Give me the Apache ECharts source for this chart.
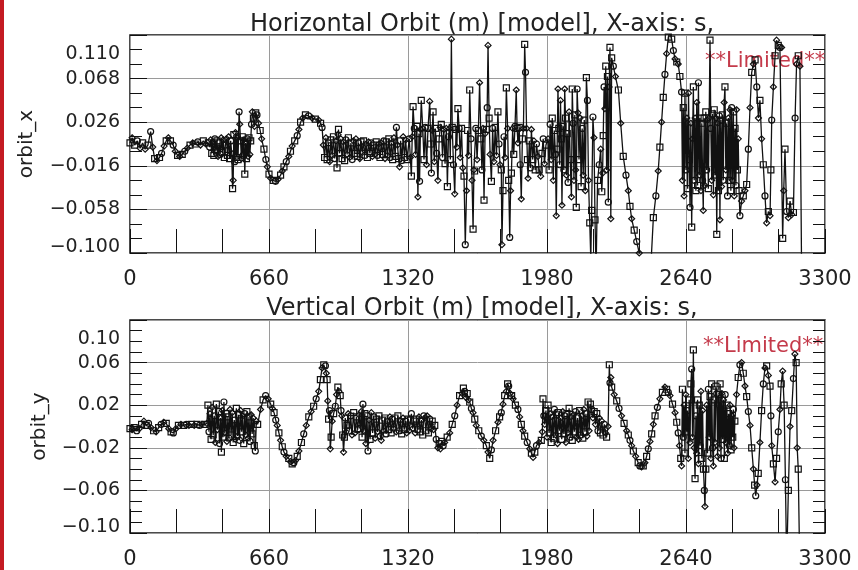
<!DOCTYPE html>
<html>
<head>
<meta charset="utf-8">
<script src="https://cdn.jsdelivr.net/npm/echarts@6/dist/echarts.min.js"></script>
<style>
html, body { margin: 0; padding: 0; background: #fff; }
#chart { width: 858px; height: 570px; }
</style>
</head>
<body>
<div id="chart"></div>
<script>
// [s (m), orbit (m)]
var orbitX = [
  [0,0.006],[10,0.011],[22,0.004],[35,0.008],[48,0.001],[60,0.006],[72,0.000],[85,0.004],[98,0.017],[108,0.002],
  [117,-0.009],[128,-0.011],[140,-0.008],[150,-0.004],[162,0.003],[172,0.008],[182,0.011],[192,0.008],[205,0.004],
  [215,-0.002],[226,-0.006],[236,-0.007],[248,-0.005],[260,-0.002],[272,0.001],[285,0.004],[298,0.006],[310,0.005],
  [322,0.007],[335,0.004],[348,0.008],[360,0.005],[372,0.006],
  [378,0.002],[383,0.009],[388,-0.004],[393,0.007],[398,-0.006],[403,0.010],[408,-0.002],[413,0.008],[418,-0.007],
  [423,0.006],[428,-0.005],[433,0.011],[438,-0.003],[443,0.009],[448,-0.008],[453,0.004],[458,0.010],[463,-0.006],
  [468,0.012],[473,-0.009],[478,0.008],[483,-0.004],[487,-0.038],[490,-0.030],[493,0.014],[497,-0.012],[501,0.016],
  [505,-0.008],[509,0.011],[513,-0.010],[518,0.036],[521,0.024],[525,0.008],[529,-0.009],[533,0.012],[537,-0.006],
  [541,0.009],[545,-0.024],[549,0.006],[553,-0.009],[557,0.010],[561,-0.007],[565,0.011],[569,-0.005],[573,0.008],
  [577,0.024],[581,0.036],[586,0.030],[591,0.022],[597,0.035],[603,0.033],[610,0.025],[618,0.018],
  [625,0.010],[636,0.000],[645,-0.010],[652,-0.017],[660,-0.024],[668,-0.028],[680,-0.030],[691,-0.031],[703,-0.029],
  [715,-0.025],[723,-0.021],[731,-0.017],[742,-0.012],[754,-0.007],[762,-0.002],[770,0.003],[782,0.008],[794,0.013],
  [802,0.019],[810,0.026],[820,0.030],[833,0.033],[848,0.032],[865,0.030],[880,0.029],[896,0.028],[905,0.025],[912,0.021],
  [918,0.004],[924,-0.008],[930,0.011],[936,-0.010],[942,0.006],[948,-0.012],[954,0.009],[960,-0.006],[966,0.012],
  [972,-0.009],[978,0.008],[983,-0.018],[988,0.014],[990,0.019],[995,-0.004],[1001,0.010],[1007,-0.009],[1013,0.007],
  [1019,-0.011],[1025,0.009],[1031,-0.005],[1037,0.011],[1043,-0.008],[1049,0.006],[1055,-0.010],[1061,0.008],
  [1067,-0.004],[1073,0.010],[1079,-0.007],[1085,0.006],[1091,-0.009],[1097,0.007],[1103,-0.003],[1109,0.008],
  [1115,-0.006],[1121,0.005],[1127,-0.008],[1133,0.007],[1139,-0.004],[1145,0.006],[1151,-0.007],[1157,0.004],
  [1163,-0.005],[1169,0.007],[1175,-0.006],[1181,0.005],[1187,-0.008],[1193,0.006],[1199,-0.005],[1205,0.008],
  [1211,-0.009],[1217,0.007],[1223,-0.006],[1229,0.010],[1235,-0.008],[1241,0.006],[1247,-0.010],[1253,0.011],
  [1259,-0.007],[1265,0.021],[1270,0.004],[1275,-0.009],[1280,-0.017],[1285,0.008],[1291,-0.011],[1297,0.012],
  [1303,-0.008],[1309,0.009],[1315,-0.010],
  [1326,0.010],[1331,-0.008],[1336,-0.026],[1340,0.012],[1344,0.041],[1350,0.020],[1356,-0.005],[1362,0.022],
  [1367,-0.046],[1372,0.015],[1375,-0.031],[1379,0.019],[1383,0.047],[1390,0.020],[1396,-0.010],[1402,0.021],
  [1408,-0.015],[1415,0.020],[1423,0.046],[1428,0.005],[1431,-0.023],[1435,0.018],[1439,0.036],[1445,-0.012],
  [1450,0.020],[1456,-0.004],[1462,-0.030],[1468,0.010],[1473,0.021],[1478,0.024],[1484,-0.008],[1490,0.019],
  [1496,-0.014],[1502,0.020],[1507,-0.036],[1512,0.012],[1517,0.020],[1521,-0.010],[1526,0.106],[1530,0.021],
  [1536,-0.015],[1542,-0.043],[1548,0.019],[1552,0.002],[1557,0.039],[1563,0.020],[1568,-0.008],[1574,0.020],
  [1580,-0.018],[1586,-0.026],[1592,-0.092],[1598,-0.040],[1603,0.018],[1608,-0.006],[1613,0.057],[1619,0.010],
  [1624,-0.030],[1629,-0.077],[1633,-0.020],[1636,-0.021],[1642,0.020],[1648,-0.010],[1654,0.018],[1660,0.064],
  [1666,0.010],[1671,-0.020],[1676,0.020],[1681,-0.049],[1686,0.015],[1692,0.019],[1696,0.040],[1700,0.100],
  [1705,0.030],[1710,-0.005],[1716,-0.031],[1722,0.020],[1728,-0.012],[1734,0.021],[1740,-0.006],[1747,0.036],
  [1752,0.005],[1757,-0.015],[1763,-0.020],[1766,-0.092],[1771,-0.040],[1776,0.012],[1781,-0.008],[1787,0.059],
  [1793,0.020],[1798,-0.030],[1803,-0.085],[1807,-0.040],[1811,-0.023],[1817,0.020],[1822,-0.005],[1828,0.022],
  [1834,0.057],[1838,0.020],[1842,0.006],[1848,0.021],[1853,-0.015],[1858,-0.048],[1863,0.010],[1868,0.020],
  [1874,0.101],[1878,0.074],[1883,0.020],[1887,-0.010],[1890,-0.028],[1896,0.008],[1901,-0.018],[1906,0.019],
  [1912,-0.010],[1918,0.008],[1924,-0.020],[1930,0.005],[1937,-0.007],[1943,-0.020],[1950,-0.026],[1956,-0.004],
  [1962,0.010],[1968,-0.014],[1975,0.004],
  [1985,0.010],[1990,-0.020],[1995,0.024],[2000,-0.010],[2005,0.030],[2010,-0.030],[2015,0.018],[2020,-0.005],
  [2024,-0.064],[2028,0.000],[2032,0.058],[2036,0.020],[2040,-0.015],[2044,0.047],[2048,0.010],[2051,-0.054],
  [2056,0.022],[2060,-0.020],[2064,0.058],[2068,0.030],[2072,-0.025],[2076,0.015],[2080,-0.032],[2085,0.036],
  [2090,-0.010],[2096,-0.046],[2100,0.058],[2104,0.025],[2108,-0.030],[2112,0.033],[2116,-0.020],[2119,-0.056],
  [2123,0.058],[2127,0.035],[2132,-0.010],[2137,0.030],[2142,-0.036],[2147,0.020],[2152,-0.025],[2157,0.028],
  [2162,-0.040],[2167,0.069],[2172,0.047],[2177,-0.030],[2183,-0.071],[2188,-0.106],
  [2192,-0.059],[2198,0.031],[2203,0.011],[2208,-0.068],[2213,-0.120],[2220,-0.030],[2228,-0.015],[2235,0.000],
  [2240,-0.041],[2244,-0.023],[2247,0.013],[2251,0.060],[2255,0.039],[2259,0.080],[2263,-0.020],[2267,0.070],
  [2271,-0.051],[2275,0.060],[2279,0.098],[2283,-0.067],[2287,0.088],[2295,0.080],[2305,0.070],[2319,0.057],
  [2330,0.025],[2342,-0.007],[2355,-0.025],[2366,-0.040],[2374,-0.055],[2382,-0.067],[2394,-0.078],[2406,-0.089],
  [2418,-0.100],[2430,-0.120],[2470,-0.125],[2485,-0.066],[2497,-0.045],[2508,-0.021],[2516,0.002],[2524,0.026],
  [2532,0.050],[2540,0.072],[2548,0.092],[2556,0.108],[2564,0.112],[2572,0.106],[2580,0.095],[2588,0.087],
  [2596,0.084],[2603,0.082],[2611,0.070],[2619,0.055],
  [2623,-0.030],[2627,0.040],[2631,-0.045],[2635,0.054],[2640,-0.020],[2644,0.030],[2648,-0.038],[2652,0.054],
  [2656,-0.010],[2659,-0.056],[2663,0.025],[2667,-0.075],[2671,0.010],[2675,0.060],[2679,-0.030],[2683,0.030],
  [2687,-0.040],[2691,0.045],[2695,-0.035],[2699,0.064],[2703,-0.025],[2707,0.030],[2711,-0.040],[2715,0.025],
  [2719,-0.030],[2722,-0.059],[2726,0.030],[2730,-0.035],[2734,0.036],[2738,-0.020],[2742,0.028],[2746,-0.038],
  [2750,0.030],[2754,0.105],[2758,0.020],[2762,-0.030],[2766,0.034],[2770,-0.044],[2774,0.038],[2778,-0.025],
  [2782,0.030],[2786,-0.082],[2790,0.025],[2794,-0.040],[2798,0.032],[2801,-0.068],[2805,0.028],[2809,-0.036],
  [2813,0.033],[2817,-0.030],[2821,0.045],[2825,0.060],[2829,-0.020],[2833,0.025],[2837,-0.045],[2841,0.030],
  [2845,-0.030],[2849,0.038],[2853,-0.040],[2857,0.040],[2861,-0.030],[2865,0.036],[2869,-0.045],[2873,0.020],
  [2877,-0.035],[2880,0.038],[2884,-0.020],[2888,0.010],[2892,-0.040],[2896,-0.064],
  [2904,-0.050],[2912,-0.045],[2920,-0.040],[2928,-0.034],[2936,0.000],[2944,0.040],[2952,0.074],[2960,0.082],
  [2968,0.086],[2976,0.060],[2984,0.030],[2991,0.047],[2999,0.010],[3007,-0.015],[3015,-0.045],[3023,-0.071],
  [3031,-0.060],[3039,-0.064],[3043,-0.020],[3047,0.028],[3055,0.060],[3063,0.090],[3070,0.105],[3078,0.100],
  [3086,0.098],[3094,0.098],[3099,-0.086],[3104,-0.040],[3110,0.000],[3118,-0.060],[3126,-0.066],[3134,-0.050],
  [3142,-0.063],[3150,-0.061],[3158,0.030],[3165,0.082],[3173,0.090],[3181,0.080],[3189,-0.120]
];

var orbitY = [
  [0,-0.002],[10,-0.003],[20,-0.001],[32,-0.004],[44,-0.002],[55,0.002],[66,0.005],[77,0.001],[88,0.003],[100,-0.001],
  [112,-0.004],[124,-0.005],[136,-0.001],[148,0.002],[160,0.004],[172,0.003],[184,-0.002],[195,-0.005],[206,-0.006],
  [218,-0.002],[230,0.001],[242,0.002],[255,0.001],[268,0.002],[280,0.001],[292,0.002],[305,0.001],[318,0.002],
  [330,0.001],[342,0.002],[355,0.002],[365,0.003],
  [370,0.020],[375,-0.005],[380,0.012],[385,-0.012],[390,0.018],[395,-0.008],[400,0.010],[405,-0.015],[410,0.021],
  [415,-0.003],[420,0.014],[425,-0.016],[430,0.008],[434,-0.024],[438,0.015],[442,-0.010],[446,0.023],[450,-0.006],
  [455,0.012],[460,-0.014],[465,0.009],[470,-0.011],[475,0.016],[480,-0.008],[485,0.013],[490,-0.015],[495,0.006],
  [500,-0.012],[505,0.017],[510,-0.009],[515,0.011],[520,-0.013],[525,0.015],[530,-0.005],[535,0.010],[540,-0.016],
  [545,0.012],[550,-0.008],[555,0.014],[560,-0.011],[565,0.009],[570,-0.014],[575,0.011],[580,-0.007],[585,0.008],
  [590,-0.018],[595,-0.023],[600,0.005],[606,0.002],
  [620,0.016],[632,0.025],[644,0.029],[656,0.026],[668,0.021],[676,0.017],[684,0.013],[692,0.006],[699,0.001],
  [707,-0.006],[715,-0.013],[723,-0.019],[731,-0.024],[742,-0.028],[754,-0.030],[762,-0.033],[770,-0.035],
  [778,-0.034],[786,-0.032],[794,-0.028],[802,-0.023],[814,-0.015],[825,-0.007],[837,0.001],[849,0.009],[860,0.014],
  [872,0.019],[884,0.026],[896,0.033],[904,0.044],[912,0.055],[920,0.058],[928,0.057],[932,0.050],[936,0.044],
  [939,0.024],[943,0.007],[947,0.015],[951,-0.021],[955,-0.010],[960,0.005],[967,0.012],[975,0.019],[981,0.030],
  [987,0.037],[992,0.033],[998,0.029],[1002,0.015],[1006,0.010],[1010,-0.008],[1014,-0.024],[1018,-0.010],
  [1022,0.008],[1026,-0.005],[1030,0.001],[1036,0.012],[1042,-0.004],[1048,0.010],[1054,-0.008],[1062,0.013],
  [1068,-0.006],[1075,0.009],[1081,-0.003],[1087,0.011],[1093,-0.002],
  [1098,0.014],[1102,-0.010],[1106,0.021],[1110,-0.004],[1115,0.012],[1120,-0.016],[1125,0.010],[1130,-0.023],
  [1135,0.006],[1140,-0.012],[1146,0.013],[1152,-0.006],[1158,0.009],[1164,-0.011],[1170,0.007],[1176,-0.005],
  [1182,0.010],[1188,-0.009],[1193,-0.013],[1198,0.006],[1204,-0.004],[1210,0.008],[1216,-0.007],[1222,0.005],
  [1228,-0.003],[1234,0.009],[1240,-0.006],[1246,0.007],[1252,-0.002],[1258,0.008],[1264,-0.005],[1272,0.010],
  [1278,-0.004],[1284,0.006],[1290,-0.007],[1296,0.008],[1302,-0.003],[1308,0.005],[1314,-0.006],[1320,0.007],
  [1326,-0.004],[1332,0.006],[1336,0.012],[1342,-0.002],[1348,0.005],[1354,-0.006],[1360,0.007],[1366,-0.003],
  [1372,0.009],[1378,-0.005],[1384,0.006],[1390,-0.008],[1395,0.010],[1399,0.008],[1405,-0.004],[1411,0.010],
  [1417,-0.006],[1423,0.007],[1429,-0.002],[1435,0.005],[1441,-0.003],[1447,0.001],
  [1454,-0.012],[1462,-0.020],[1468,-0.016],[1474,-0.021],[1480,-0.014],[1487,-0.018],[1494,-0.015],[1506,-0.010],
  [1518,-0.006],[1530,0.002],[1542,0.010],[1553,0.020],[1565,0.029],[1577,0.031],[1583,0.036],[1589,0.033],
  [1596,0.027],[1601,0.031],[1607,0.025],[1613,0.023],[1621,0.017],[1629,0.013],[1637,0.007],[1644,0.001],
  [1656,-0.004],[1668,-0.009],[1680,-0.013],[1692,-0.018],[1700,-0.024],[1708,-0.030],[1716,-0.022],[1724,-0.013],
  [1736,-0.004],[1747,0.004],[1755,0.009],[1763,0.013],[1771,0.021],[1779,0.029],[1787,0.033],[1793,0.040],
  [1798,0.038],[1805,0.031],[1812,0.029],[1819,0.026],[1830,0.020],[1842,0.016],[1850,0.009],[1858,0.002],
  [1866,-0.004],[1874,-0.009],[1886,-0.015],[1898,-0.021],[1906,-0.025],[1914,-0.029],[1922,-0.024],[1930,-0.018],
  [1942,-0.015],[1953,-0.013],[1958,-0.005],[1961,0.026],[1965,0.010],[1969,0.002],
  [1975,0.015],[1980,-0.010],[1985,0.020],[1990,-0.006],[1995,0.012],[2000,-0.015],[2005,0.009],[2010,-0.011],
  [2015,0.016],[2020,-0.008],[2025,0.011],[2030,-0.016],[2035,0.013],[2040,-0.004],[2045,0.008],[2050,-0.012],
  [2055,0.014],[2060,-0.007],[2065,0.010],[2070,-0.015],[2075,0.012],[2080,-0.006],[2085,0.017],[2090,-0.010],
  [2095,0.009],[2100,-0.013],[2105,0.011],[2110,-0.005],[2115,0.014],[2120,-0.010],[2125,0.008],[2130,-0.012],
  [2135,0.015],[2140,-0.008],[2145,0.010],[2150,-0.011],[2155,0.016],[2160,-0.005],[2165,0.012],[2170,-0.009],
  [2175,0.023],[2180,-0.004],[2186,0.021],[2192,0.016],[2198,0.008],[2204,0.014],[2210,0.002],[2216,0.012],
  [2222,-0.004],[2228,0.008],[2234,-0.006],[2240,0.005],[2246,-0.008],[2252,0.002],[2258,-0.006],[2263,-0.010],
  [2270,0.000],
  [2276,0.058],[2279,0.041],[2283,0.046],[2287,0.037],[2299,0.030],[2311,0.024],[2322,0.017],[2334,0.010],
  [2346,0.003],[2358,-0.004],[2366,-0.008],[2374,-0.013],[2382,-0.018],[2390,-0.023],[2401,-0.028],[2413,-0.034],
  [2421,-0.037],[2429,-0.038],[2437,-0.037],[2445,-0.034],[2453,-0.028],[2461,-0.021],[2469,-0.014],[2477,-0.007],
  [2485,0.002],[2493,0.010],[2504,0.018],[2516,0.026],[2528,0.032],[2540,0.037],[2548,0.035],[2556,0.032],
  [2564,0.029],[2576,0.021],[2588,0.013],[2596,0.004],[2603,-0.006],[2609,-0.018],[2615,-0.030],[2619,-0.037],
  [2623,0.035],[2627,-0.010],[2631,0.020],[2635,-0.025],[2639,0.030],[2643,-0.005],[2647,0.015],[2651,-0.030],
  [2655,0.025],[2659,-0.015],[2663,0.040],[2667,0.054],[2671,-0.010],[2675,0.072],[2679,-0.020],[2683,-0.049],
  [2687,0.010],[2691,-0.025],[2695,0.025],[2699,-0.035],[2703,0.020],[2707,-0.018],[2711,0.033],[2715,-0.030],
  [2719,0.015],[2723,-0.040],[2727,-0.060],[2730,-0.075],[2734,-0.040],[2738,0.020],[2742,-0.025],[2746,0.035],
  [2750,-0.010],[2754,0.028],[2758,-0.030],[2762,0.040],[2766,-0.020],[2770,-0.037],[2774,0.025],[2778,-0.015],
  [2782,0.038],[2786,0.031],[2790,-0.028],[2794,0.030],[2798,-0.020],[2802,0.040],[2806,-0.030],[2810,0.031],
  [2814,-0.012],[2818,0.025],[2822,-0.030],[2826,0.030],[2830,-0.015],[2834,0.020],[2838,-0.025],[2842,0.012],
  [2846,-0.018],[2850,0.020],[2854,-0.022],[2858,0.010],[2862,-0.010],[2865,0.016],[2868,-0.020],[2872,0.005],
  [2880,0.030],[2888,0.046],[2896,0.058],[2904,0.060],[2912,0.050],[2920,0.038],[2928,0.028],[2936,0.014],
  [2944,0.001],[2952,-0.020],[2960,-0.040],[2966,-0.055],[2971,-0.065],[2977,-0.055],[2983,-0.044],[2991,-0.015],
  [2999,0.015],[3007,0.040],[3015,0.055],[3023,0.057],[3031,0.048],[3039,0.038],[3043,0.010],[3047,-0.018],
  [3055,-0.035],[3063,-0.052],[3070,-0.030],[3078,-0.005],[3086,0.016],[3092,0.040],[3099,0.052],[3106,0.020],
  [3112,-0.050],[3118,-0.130],[3126,-0.060],[3134,0.000],[3142,0.015],[3150,0.045],[3157,0.068],[3163,0.060],
  [3168,-0.020],[3173,-0.040],[3180,-0.130]
];

var sLabels = ['0', '660', '1320', '1980', '2640', '3300'];
var xLabels = ['\u22120.100', '\u22120.058', '\u22120.016', '0.026', '0.068', '0.110'];
var yLabels = ['\u22120.10', '\u22120.06', '\u22120.02', '0.02', '0.06', '0.10'];
var titles = ['Horizontal Orbit (m) [model], X-axis: s,', 'Vertical Orbit (m) [model], X-axis: s,'];

// y axes start at a tick multiple: plot orbit - bottom, label with real values
var xBase = -0.100, xStep = 0.042;
var yBase = -0.10, yStep = 0.04;

var font = 'DejaVu Sans';
var shapes = ['rect', 'diamond', 'rect', 'circle', 'diamond'];
var ink = '#111';

function shift(arr, base) {
  return arr.map(function (p) { return [p[0], +(p[1] - base).toFixed(4)]; });
}

function yFormatter(labels, step) {
  return function (v) {
    var i = Math.round(v / step);
    var t = labels[i];
    if (i === labels.length - 1) return '{hi|' + t + '}';
    if (i === 0) return '{lo|' + t + '}';
    return t;
  };
}

// tick-only axis: pulled inside the frame by its tick length so the ticks point inward
function tickAxis(kind, grid, pos, max, step, len) {
  return {
    type: 'value', gridIndex: grid, position: pos, offset: -len,
    min: 0, max: max, interval: step,
    axisLine: { show: false },
    axisTick: { show: true, length: len, lineStyle: { color: ink, width: 1 } },
    axisLabel: { show: false },
    splitLine: { show: false }
  };
}

function sAxis(grid) {
  return {
    type: 'value', gridIndex: grid, min: 0, max: 3300, interval: 660, position: 'bottom',
    axisLine: { show: false },
    axisTick: { show: false },
    splitLine: { show: true, lineStyle: { color: '#9a9a9a', width: 1 } },
    axisLabel: {
      show: true, margin: 16, fontFamily: font, fontSize: 21, color: '#222',
      formatter: function (v) { return sLabels[Math.round(v / 660)]; }
    }
  };
}

function vAxis(grid, step, labels, name, nameGap, fs) {
  return {
    type: 'value', gridIndex: grid, min: 0, max: +(step * 5).toFixed(3), interval: step, position: 'left',
    axisLine: { show: false },
    axisTick: { show: false },
    splitLine: { show: true, lineStyle: { color: '#9a9a9a', width: 1 } },
    axisLabel: {
      show: true, margin: 10, fontFamily: font, fontSize: fs, color: '#222',
      formatter: yFormatter(labels, step),
      rich: {
        hi: { fontFamily: font, fontSize: fs, color: '#222', padding: [38, 0, 0, 0] },
        lo: { fontFamily: font, fontSize: fs, color: '#222', padding: [0, 0, 12, 0] }
      }
    },
    name: name, nameLocation: 'middle', nameGap: nameGap,
    nameTextStyle: { fontFamily: font, fontSize: 20, color: '#222' }
  };
}

function orbitSeries(data, xi, yi) {
  return {
    type: 'line', xAxisIndex: xi, yAxisIndex: yi, data: data,
    symbol: function (v, p) { return shapes[p.dataIndex % shapes.length]; },
    symbolSize: 6, showSymbol: true, showAllSymbol: true, clip: true,
    lineStyle: { color: ink, width: 1.3 },
    itemStyle: { color: 'rgba(0,0,0,0)', borderColor: ink, borderWidth: 1.2 },
    animation: false, silent: true
  };
}

var maxX = +(xStep * 5).toFixed(3), maxY = +(yStep * 5).toFixed(3);

var chart = echarts.init(document.getElementById('chart'), null, { renderer: 'canvas' });
chart.setOption({
  backgroundColor: '#fff',
  animation: false,
  title: [
    { text: titles[0], left: 477, top: 8, textAlign: 'center',
      textStyle: { fontFamily: font, fontSize: 24, fontWeight: 'normal', color: '#222' } },
    { text: titles[1], left: 477, top: 292, textAlign: 'center',
      textStyle: { fontFamily: font, fontSize: 24, fontWeight: 'normal', color: '#222' } }
  ],
  grid: [
    { left: 130, top: 35, width: 695, height: 218, show: true, borderColor: ink, borderWidth: 1.5, backgroundColor: 'transparent' },
    { left: 130, top: 320, width: 695, height: 216, show: true, borderColor: ink, borderWidth: 1.5, backgroundColor: 'transparent' }
  ],
  xAxis: [
    sAxis(0), sAxis(1),
    tickAxis('x', 0, 'bottom', 3300, 220, 12), tickAxis('x', 0, 'top', 3300, 220, 12),
    tickAxis('x', 1, 'bottom', 3300, 220, 12), tickAxis('x', 1, 'top', 3300, 220, 12)
  ],
  yAxis: [
    vAxis(0, xStep, xLabels, 'orbit_x', 93, 19),
    vAxis(1, yStep, yLabels, 'orbit_y', 80, 19),
    tickAxis('y', 0, 'left', maxX, xStep, 17), tickAxis('y', 0, 'left', maxX, xStep / 3, 12),
    tickAxis('y', 0, 'right', maxX, xStep / 3, 12),
    tickAxis('y', 1, 'left', maxY, yStep, 17), tickAxis('y', 1, 'left', maxY, yStep / 4, 12),
    tickAxis('y', 1, 'right', maxY, yStep / 4, 12)
  ],
  series: [
    orbitSeries(shift(orbitX, xBase), 0, 0),
    orbitSeries(shift(orbitY, yBase), 1, 1)
  ],
  graphic: [
    { type: 'rect', left: 0, top: 0, shape: { width: 4, height: 570 }, style: { fill: '#c41a22' } },
    { type: 'text', x: 705, y: 62, style: { text: '**Limited**', fill: '#c43a4a', fontFamily: font, fontSize: 21, verticalAlign: 'middle' } },
    { type: 'text', x: 703, y: 347, style: { text: '**Limited**', fill: '#c43a4a', fontFamily: font, fontSize: 21, verticalAlign: 'middle' } }
  ]
});
</script>
</body>
</html>
